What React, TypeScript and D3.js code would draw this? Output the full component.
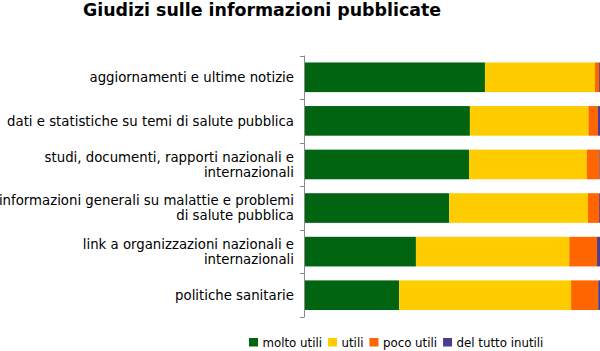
import { useRef, useEffect } from "react";
import * as d3 from "d3";

const categories = [
  ["aggiornamenti e ultime notizie"],
  ["dati e statistiche su temi di salute pubblica"],
  ["studi, documenti, rapporti nazionali e", "internazionali"],
  ["informazioni generali su malattie e problemi", "di salute pubblica"],
  ["link a organizzazioni nazionali e", "internazionali"],
  ["politiche sanitarie"],
];

const seriesNames = ["molto utili", "utili", "poco utili", "del tutto inutili"];
const seriesColors = ["#006411", "#ffcc00", "#ff6600", "#4b3c8c"];

const moltoUtili = [61.0, 55.9, 55.6, 48.9, 37.6, 31.9];
const utili = [37.3, 40.2, 39.9, 47.0, 52.0, 58.3];
const pocoUtili = [1.4, 3.2, 4.3, 3.8, 9.4, 9.2];
const delTuttoInutili = [0.3, 0.7, 0.2, 0.3, 1.0, 0.6];

const width = 600;
const height = 351;
const margin = { top: 55.5, right: 0, bottom: 34, left: 305 };

const App = () => {
  const svgRef = useRef<SVGSVGElement>(null);

  useEffect(() => {
    const svg = d3.select(svgRef.current);
    svg.selectAll("*").remove();

    const rows = categories.map((c, i) => ({
      key: i,
      v: [moltoUtili[i], utili[i], pocoUtili[i], delTuttoInutili[i]],
    }));

    const x = d3
      .scaleLinear()
      .domain([0, 100])
      .range([margin.left, width - margin.right]);

    const y = d3
      .scaleBand<number>()
      .domain(rows.map((r) => r.key))
      .range([margin.top, height - margin.bottom])
      .paddingInner(0.32)
      .paddingOuter(0.16);

    const stack = d3
      .stack<any>()
      .keys(seriesNames)
      .value((d, key) => d.v[seriesNames.indexOf(key)]);
    const stacked = stack(rows);

    svg
      .append("text")
      .attr("x", 262)
      .attr("y", 16)
      .attr("text-anchor", "middle")
      .attr("font-family", "DejaVu Sans")
      .attr("font-weight", "bold")
      .attr("font-size", 17.4)
      .text("Giudizi sulle informazioni pubblicate");

    svg
      .append("g")
      .selectAll("g")
      .data(stacked)
      .join("g")
      .attr("fill", (d, i) => seriesColors[i])
      .selectAll("rect")
      .data((d) => d)
      .join("rect")
      .attr("x", (d) => x(d[0]))
      .attr("y", (d: any) => y(d.data.key)!)
      .attr("width", (d) => x(d[1]) - x(d[0]))
      .attr("height", y.bandwidth());

    // axis line with ticks at the band boundaries
    const step = y.step();
    const bounds = d3.range(categories.length + 1).map((i) => margin.top + i * step);
    const axis = svg.append("g").attr("stroke", "#8a8a8a").attr("stroke-width", 1);
    axis
      .append("line")
      .attr("x1", margin.left - 0.5)
      .attr("x2", margin.left - 0.5)
      .attr("y1", bounds[0])
      .attr("y2", bounds[bounds.length - 1]);
    axis
      .selectAll("line.tick")
      .data(bounds)
      .join("line")
      .attr("class", "tick")
      .attr("x1", margin.left - 5)
      .attr("x2", margin.left - 0.5)
      .attr("y1", (d) => Math.round(d) + 0.5)
      .attr("y2", (d) => Math.round(d) + 0.5);

    const labels = svg
      .append("g")
      .attr("font-family", "DejaVu Sans")
      .attr("font-size", 13.3)
      .attr("fill", "#000")
      .attr("text-anchor", "end");
    rows.forEach((r, i) => {
      const lines = categories[i];
      const cy = y(r.key)! + y.bandwidth() / 2;
      const lh = 15;
      lines.forEach((ln, j) => {
        labels
          .append("text")
          .attr("x", 294)
          .attr("y", cy + (j - (lines.length - 1) / 2) * lh)
          .attr("dy", "0.35em")
          .text(ln);
      });
    });

    // legend
    const legend = svg
      .append("g")
      .attr("font-family", "DejaVu Sans")
      .attr("font-size", 11.8);
    let lx = 249;
    seriesNames.forEach((name, i) => {
      legend
        .append("rect")
        .attr("x", lx)
        .attr("y", 338)
        .attr("width", 9)
        .attr("height", 8.5)
        .attr("fill", seriesColors[i]);
      const t = legend
        .append("text")
        .attr("x", lx + 13.5)
        .attr("y", 347)
        .text(name);
      const w = (t.node() as SVGTextElement).getComputedTextLength();
      lx += 13.5 + w + 6;
    });
  }, []);

  return (
    <svg
      ref={svgRef}
      width={width}
      height={height}
      style={{ position: "absolute", left: 0, top: 0, background: "#fff" }}
    ></svg>
  );
};

export default App;
